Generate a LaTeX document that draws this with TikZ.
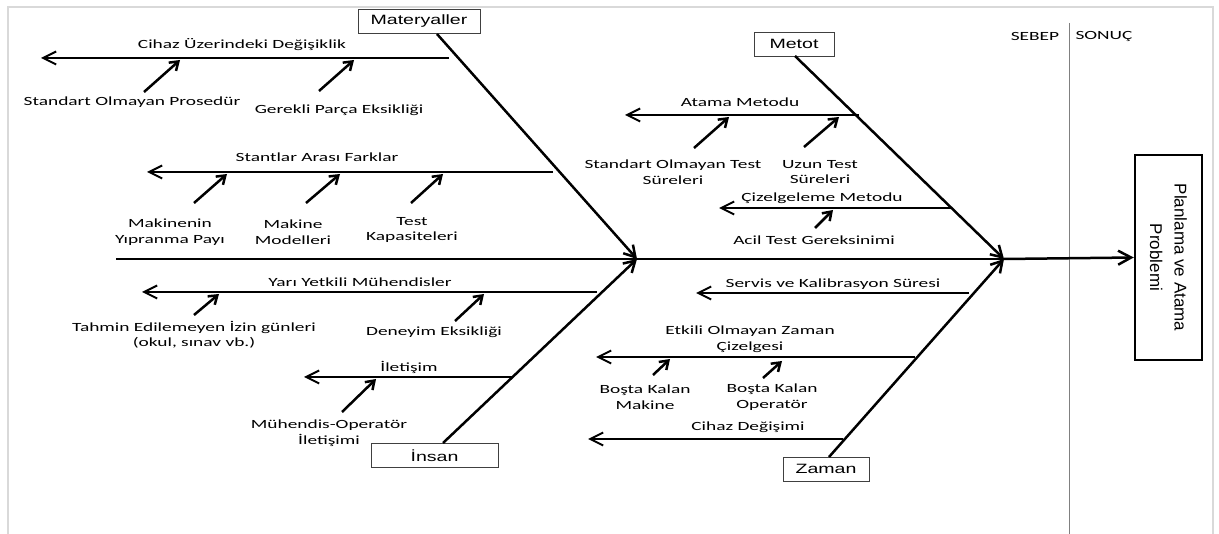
\documentclass[tikz,border=0pt]{standalone}
\usepackage{fontspec}
\setmainfont{Carlito}[FakeStretch=1.55]
\newfontfamily\boxfont{Liberation Sans}[FakeStretch=1.45]
\newfontfamily\resfont{Liberation Sans}
\usetikzlibrary{arrows.meta}

\begin{document}
\begin{tikzpicture}[x=1pt, y=-1pt]
	\tikzstyle{frameStyle}=[draw=black!15, line width=2pt]
	\tikzstyle{causeStyle}=[draw=black!75, line width=0.8pt, inner sep=0pt, minimum height=24pt, font=\boxfont\fontsize{13.5}{16}\selectfont]
	\tikzstyle{resultStyle}=[draw, line width=2.5pt, inner sep=0pt, align=center, minimum width=205pt, minimum height=67pt, font=\resfont\fontsize{17}{24.5}\selectfont]
	\tikzstyle{labelStyle}=[inner sep=0pt, align=center, font=\fontsize{12.5}{15.5}\selectfont]
	\tikzstyle{boneStyle}=[line width=2.5pt, -{Straight Barb[length=11pt, width=13pt]}]
	\tikzstyle{spineStyle}=[line width=2.5pt]
	\tikzstyle{branchStyle}=[line width=2pt, -{Straight Barb[length=13pt, width=13pt]}]
	\tikzstyle{subStyle}=[line width=2.5pt, -{Straight Barb[length=8pt, width=11pt]}]
	\useasboundingbox (0,0) rectangle (1219,534);
	\draw[frameStyle] (8,534) -- (8,7) -- (1213,7) -- (1213,534);
	% cause boxes and result
	\node[causeStyle, minimum width=122pt] (mat) at (419,21.5) {Materyaller};
	\node[causeStyle, minimum width=80pt] (met) at (794,44) {Metot};
	\node[causeStyle, minimum width=127pt] (ins) at (434.5,455.5) {İnsan};
	\node[causeStyle, minimum width=86pt] (zam) at (826,469) {Zaman};
	\node[resultStyle, rotate=-90] (res) at (1168.5,257.5) {Planlama ve Atama\\Problemi};
	\node[labelStyle] (sebep) at (1035,36) {SEBEP};
	\node[labelStyle] (sonuc) at (1104,36) {SONUÇ};
	\coordinate (divTop) at (1069,23);
	\coordinate (divBot) at (1069,534);
	\draw[gray, line width=0.6pt] (divTop) -- (divBot);
	% spine and bones
	\coordinate (s0) at (116,259);
	\coordinate (j1) at (637,259);
	\coordinate (j2) at (1004,259);
	\coordinate (matB) at (437,34);
	\coordinate (metB) at (795,56);
	\coordinate (insB) at (443,443);
	\coordinate (zamB) at (829,457);
	\draw[spineStyle] (s0) -- (j1) -- (j2);
	\draw[spineStyle, -{Straight Barb[length=13pt, width=14pt]}] (j2) -- (res.south);
	\draw[boneStyle] (matB) -- (j1);
	\draw[boneStyle] (insB) -- (j1);
	\draw[boneStyle] (metB) -- (j2);
	\draw[boneStyle] (zamB) -- (j2);
	% Materyaller
	\coordinate (cihazR) at (449,58);
	\coordinate (cihazL) at (41,58);
	\draw[branchStyle] (cihazR) -- (cihazL);
	\node[labelStyle] (cihaz) at (242,45) {Cihaz Üzerindeki Değişiklik};
	\node[labelStyle] (prosedur) at (132,102) {Standart Olmayan Prosedür};
	\node[labelStyle] (parca) at (339,110) {Gerekli Parça Eksikliği};
	\coordinate (t1) at (144,92);
	\coordinate (h1) at (180,60);
	\coordinate (t2) at (319,91);
	\coordinate (h2) at (354,60);
	\draw[subStyle] (t1) -- (h1);
	\draw[subStyle] (t2) -- (h2);
	\coordinate (stantR) at (553,172);
	\coordinate (stantL) at (147,172);
	\draw[branchStyle] (stantR) -- (stantL);
	\node[labelStyle] (stant) at (317,157) {Stantlar Arası Farklar};
	\node[labelStyle] (yipranma) at (170,232) {Makinenin\\Yıpranma Payı};
	\node[labelStyle] (model) at (293,232) {Makine\\Modelleri};
	\node[labelStyle] (kapasite) at (412,230) {Test\\Kapasiteleri};
	\coordinate (t3) at (194,203);
	\coordinate (h3) at (227,174);
	\coordinate (t4) at (306,203);
	\coordinate (h4) at (340,174);
	\coordinate (t5) at (411,203);
	\coordinate (h5) at (443,174);
	\draw[subStyle] (t3) -- (h3);
	\draw[subStyle] (t4) -- (h4);
	\draw[subStyle] (t5) -- (h5);
	% Insan
	\coordinate (yariR) at (597,292);
	\coordinate (yariL) at (142,292);
	\draw[branchStyle] (yariR) -- (yariL);
	\node[labelStyle] (yari) at (360,282) {Yarı Yetkili Mühendisler};
	\node[labelStyle] (izin) at (194,335) {Tahmin Edilemeyen İzin günleri\\(okul, sınav vb.)};
	\node[labelStyle] (deneyim) at (434,332) {Deneyim Eksikliği};
	\coordinate (t6) at (194,315);
	\coordinate (h6) at (219,294);
	\coordinate (t7) at (455,321);
	\coordinate (h7) at (484,294);
	\draw[subStyle] (t6) -- (h6);
	\draw[subStyle] (t7) -- (h7);
	\coordinate (iletR) at (512,377);
	\coordinate (iletL) at (304,377);
	\draw[branchStyle] (iletR) -- (iletL);
	\node[labelStyle] (ilet) at (409,367) {İletişim};
	\node[labelStyle] (mo) at (329,433) {Mühendis-Operatör\\İletişimi};
	\coordinate (t8) at (342,412);
	\coordinate (h8) at (376,379);
	\draw[subStyle] (t8) -- (h8);
	% Metot
	\coordinate (atamaR) at (859,115);
	\coordinate (atamaL) at (625,115);
	\draw[branchStyle] (atamaR) -- (atamaL);
	\node[labelStyle] (atama) at (740,102) {Atama Metodu};
	\node[labelStyle] (stsure) at (673,172) {Standart Olmayan Test\\Süreleri};
	\node[labelStyle] (uzun) at (820,172) {Uzun Test\\Süreleri};
	\coordinate (t9) at (694,148);
	\coordinate (h9) at (729,117);
	\coordinate (t10) at (804,147);
	\coordinate (h10) at (839,117);
	\draw[subStyle] (t9) -- (h9);
	\draw[subStyle] (t10) -- (h10);
	\coordinate (cizR) at (951,208);
	\coordinate (cizL) at (719,208);
	\draw[branchStyle] (cizR) -- (cizL);
	\node[labelStyle] (ciz) at (822,198) {Çizelgeleme Metodu};
	\node[labelStyle] (acil) at (814,240) {Acil Test Gereksinimi};
	\coordinate (t11) at (815,228);
	\coordinate (h11) at (833,210);
	\draw[subStyle] (t11) -- (h11);
	% Zaman
	\coordinate (servisR) at (969,293);
	\coordinate (servisL) at (696,293);
	\draw[branchStyle] (servisR) -- (servisL);
	\node[labelStyle] (servis) at (833,284) {Servis ve Kalibrasyon Süresi};
	\coordinate (etkiliR) at (915,357);
	\coordinate (etkiliL) at (596,357);
	\draw[branchStyle] (etkiliR) -- (etkiliL);
	\node[labelStyle] (etkili) at (750,339) {Etkili Olmayan Zaman\\Çizelgesi};
	\node[labelStyle] (bosMak) at (645,397) {Boşta Kalan\\Makine};
	\node[labelStyle] (bosOp) at (772,397) {Boşta Kalan\\Operatör};
	\coordinate (t12) at (653,375);
	\coordinate (h12) at (670,359);
	\coordinate (t13) at (763,378);
	\coordinate (h13) at (782,361);
	\draw[subStyle] (t12) -- (h12);
	\draw[subStyle] (t13) -- (h13);
	\coordinate (degR) at (843,439);
	\coordinate (degL) at (588,439);
	\draw[branchStyle] (degR) -- (degL);
	\node[labelStyle] (deg) at (748,427) {Cihaz Değişimi};
\end{tikzpicture}
\end{document}
